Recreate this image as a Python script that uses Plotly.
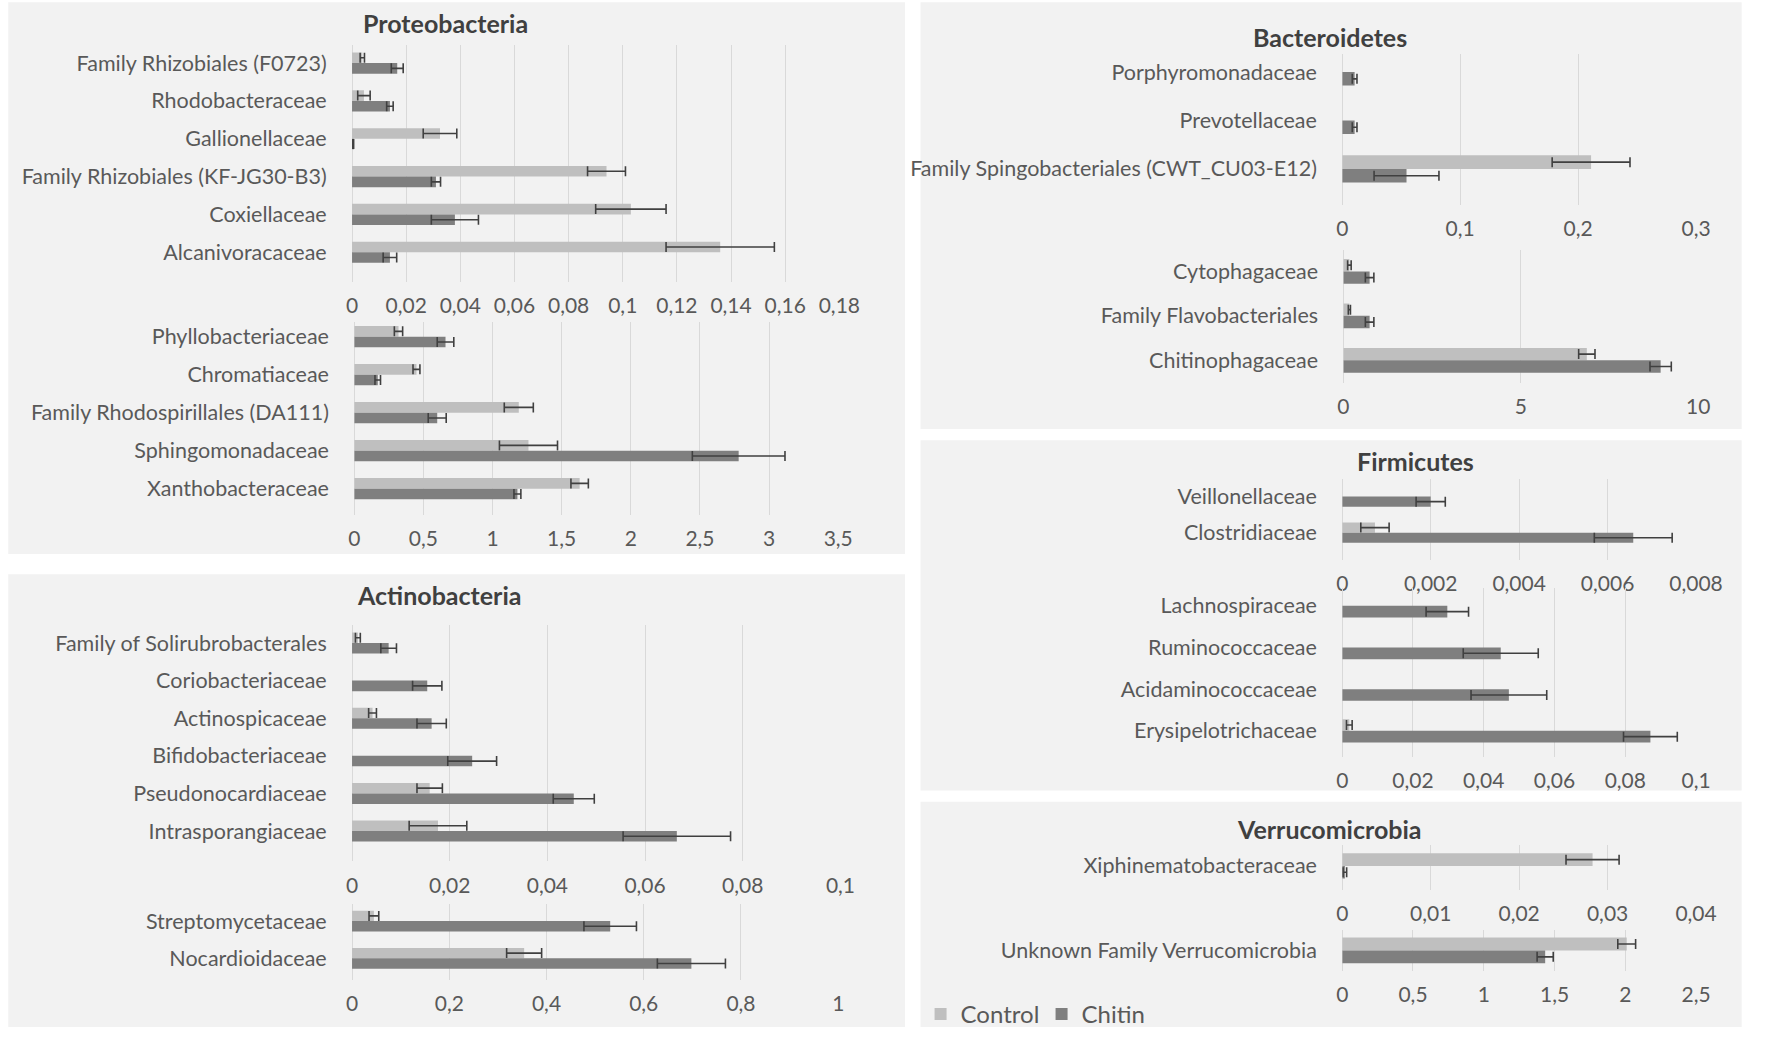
import plotly.graph_objects as go

# ---------------- DATA ----------------
proteo_top_cats = ["Family Rhizobiales (F0723)", "Rhodobacteraceae", "Gallionellaceae",
                   "Family Rhizobiales (KF-JG30-B3)", "Coxiellaceae", "Alcanivoracaceae"]
proteo_top_control = [0.0038, 0.0044, 0.0325, 0.094, 0.103, 0.136]
proteo_top_control_err = [0.0008, 0.0023, 0.0062, 0.007, 0.013, 0.020]
proteo_top_chitin = [0.0167, 0.014, 0.0004, 0.031, 0.038, 0.014]
proteo_top_chitin_err = [0.0022, 0.0012, 0.0002, 0.0017, 0.0087, 0.0025]

proteo_bot_cats = ["Phyllobacteriaceae", "Chromatiaceae", "Family Rhodospirillales (DA111)",
                   "Sphingomonadaceae", "Xanthobacteraceae"]
proteo_bot_control = [0.32, 0.45, 1.19, 1.26, 1.63]
proteo_bot_control_err = [0.03, 0.025, 0.105, 0.21, 0.063]
proteo_bot_chitin = [0.66, 0.17, 0.60, 2.78, 1.18]
proteo_bot_chitin_err = [0.06, 0.02, 0.065, 0.335, 0.025]

actino_top_cats = ["Family of Solirubrobacterales", "Coriobacteriaceae", "Actinospicaceae",
                   "Bifidobacteriaceae", "Pseudonocardiaceae", "Intrasporangiaceae"]
actino_top_control = [0.0012, None, 0.0042, None, 0.0159, 0.0176]
actino_top_control_err = [0.0005, None, 0.0008, None, 0.0026, 0.0059]
actino_top_chitin = [0.0075, 0.0154, 0.0163, 0.0246, 0.0454, 0.0665]
actino_top_chitin_err = [0.0016, 0.003, 0.003, 0.005, 0.0042, 0.011]

actino_bot_cats = ["Streptomycetaceae", "Nocardioidaceae"]
actino_bot_control = [0.045, 0.354]
actino_bot_control_err = [0.01, 0.036]
actino_bot_chitin = [0.531, 0.698]
actino_bot_chitin_err = [0.054, 0.07]

bact_top_cats = ["Porphyromonadaceae", "Prevotellaceae", "Family Spingobacteriales (CWT_CU03-E12)"]
bact_top_control = [None, None, 0.211]
bact_top_control_err = [None, None, 0.033]
bact_top_chitin = [0.0105, 0.0105, 0.0545]
bact_top_chitin_err = [0.002, 0.002, 0.0275]

bact_bot_cats = ["Cytophagaceae", "Family Flavobacteriales", "Chitinophagaceae"]
bact_bot_control = [0.17, 0.17, 6.86]
bact_bot_control_err = [0.05, 0.03, 0.23]
bact_bot_chitin = [0.74, 0.74, 8.94]
bact_bot_chitin_err = [0.12, 0.12, 0.30]

firm_top_cats = ["Veillonellaceae", "Clostridiaceae"]
firm_top_control = [None, 0.00074]
firm_top_control_err = [None, 0.00032]
firm_top_chitin = [0.0020, 0.00658]
firm_top_chitin_err = [0.00033, 0.00088]

firm_bot_cats = ["Lachnospiraceae", "Ruminococcaceae", "Acidaminococcaceae", "Erysipelotrichaceae"]
firm_bot_control = [None, None, None, 0.0020]
firm_bot_control_err = [None, None, None, 0.0008]
firm_bot_chitin = [0.0297, 0.0448, 0.0471, 0.0871]
firm_bot_chitin_err = [0.006, 0.0106, 0.0107, 0.0076]

verr_top_cats = ["Xiphinematobacteraceae"]
verr_top_control = [0.0283]
verr_top_control_err = [0.003]
verr_top_chitin = [0.0003]
verr_top_chitin_err = [0.0002]

verr_bot_cats = ["Unknown Family Verrucomicrobia"]
verr_bot_control = [2.01]
verr_bot_control_err = [0.063]
verr_bot_chitin = [1.434]
verr_bot_chitin_err = [0.057]

panel_titles = ["Proteobacteria", "Actinobacteria", "Bacteroidetes", "Firmicutes", "Verrucomicrobia"]
series_names = ["Control", "Chitin"]

# ---------------- STYLE / LAYOUT ----------------
W, H = 1772, 1037
S = W / 1563.0
FONT = "Lato"
C_CONTROL = "#bfbfbf"
C_CHITIN = "#7f7f7f"
C_ERR = "#404040"
C_TEXT = "#595959"
C_GRID = "#d9d9d9"

def px(x):
    return x * S / W

def py(y):
    return 1 - y * S / H

# (cats, control, control_err, chitin, chitin_err, xmax, dtick,
#  x0, x1, grid_top, grid_bottom, first_center, spacing)  -- displayed-scale positions
subplots = [
    (proteo_top_cats, proteo_top_control, proteo_top_control_err, proteo_top_chitin, proteo_top_chitin_err,
     0.18, 0.02, 311, 749, 40, 250, 56, 33.6),
    (proteo_bot_cats, proteo_bot_control, proteo_bot_control_err, proteo_bot_chitin, proteo_bot_chitin_err,
     3.5, 0.5, 313, 748, 286, 457, 299, 33.75),
    (actino_top_cats, actino_top_control, actino_top_control_err, actino_top_chitin, actino_top_chitin_err,
     0.1, 0.02, 311, 750, 555, 765, 571, 33.4),
    (actino_bot_cats, actino_bot_control, actino_bot_control_err, actino_bot_chitin, actino_bot_chitin_err,
     1.0, 0.2, 311, 748, 803, 870, 818, 33.0),
    (bact_top_cats, bact_top_control, bact_top_control_err, bact_top_chitin, bact_top_chitin_err,
     0.3, 0.1, 1201, 1519, 48, 182, 64, 43.0),
    (bact_bot_cats, bact_bot_control, bact_bot_control_err, bact_bot_chitin, bact_bot_chitin_err,
     10, 5, 1202, 1521, 222, 340, 241, 39.5),
    (firm_top_cats, firm_top_control, firm_top_control_err, firm_top_chitin, firm_top_chitin_err,
     0.008, 0.002, 1201, 1519, 425, 497, 441, 32.0),
    (firm_bot_cats, firm_bot_control, firm_bot_control_err, firm_bot_chitin, firm_bot_chitin_err,
     0.1, 0.02, 1201, 1519, 522, 672, 538, 37.0),
    (verr_top_cats, verr_top_control, verr_top_control_err, verr_top_chitin, verr_top_chitin_err,
     0.04, 0.01, 1201, 1519, 750, 790, 769, 40.0),
    (verr_bot_cats, verr_bot_control, verr_bot_control_err, verr_bot_chitin, verr_bot_chitin_err,
     2.5, 0.5, 1201, 1519, 826, 862, 844, 41.0),
]

fig = go.Figure()
layout_axes = {}

for i, (cats, ctl, ctl_e, chi, chi_e, xmax, dtick, x0, x1, gt, gb, fc, sp) in enumerate(subplots):
    k = i + 1
    xa = "x" if k == 1 else f"x{k}"
    ya = "y" if k == 1 else f"y{k}"
    n = len(cats)
    last_c = fc + (n - 1) * sp
    t = (fc - gt) / sp
    b = (gb - last_c) / sp
    for name, vals, errs, col in [("Control", ctl, ctl_e, C_CONTROL), ("Chitin", chi, chi_e, C_CHITIN)]:
        fig.add_trace(go.Bar(
            y=cats, x=vals, orientation="h", name=name, legendgroup=name,
            showlegend=(k == 1), marker=dict(color=col, line=dict(width=0)),
            error_x=dict(type="data", array=[e if e is not None else 0 for e in errs],
                         color=C_ERR, thickness=1.6, width=5),
            xaxis=xa, yaxis=ya, hoverinfo="skip",
        ))
    xkey = "xaxis" if k == 1 else f"xaxis{k}"
    ykey = "yaxis" if k == 1 else f"yaxis{k}"
    layout_axes[xkey] = dict(
        domain=[px(x0), px(x1)], anchor=ya, range=[0, xmax], dtick=dtick, tick0=0,
        showgrid=True, gridcolor=C_GRID, gridwidth=1.2,
        zeroline=True, zerolinecolor=C_GRID, zerolinewidth=1.2, showline=False,
        ticks="outside", ticklen=5, tickcolor="rgba(0,0,0,0)",
        tickfont=dict(family=FONT, size=21, color=C_TEXT), fixedrange=True,
    )
    layout_axes[ykey] = dict(
        domain=[py(gb), py(gt)], anchor=xa, type="category",
        range=[n - 1 + b, -t], showgrid=False, zeroline=False, showline=False,
        ticks="outside", ticklen=int(round(18 * S)), tickcolor="rgba(0,0,0,0)",
        tickfont=dict(family=FONT, size=21.5, color=C_TEXT), fixedrange=True,
    )

# panel backgrounds
panels = [(2, 2, 808, 492), (2, 510, 808, 912), (822, 2, 1560, 381),
          (822, 391, 1560, 702), (822, 712, 1560, 912)]
shapes = []
for (a, bb, c, d) in panels:
    shapes.append(dict(type="rect", xref="paper", yref="paper",
                       x0=px(a), x1=px(c), y0=py(d), y1=py(bb),
                       fillcolor="#f2f2f2", line=dict(width=0), layer="below"))

title_pos = [(395, 20), (389, 528), (1190, 33), (1267, 409), (1190, 736)]
annotations = []
for txt, (tx, ty) in zip(panel_titles, title_pos):
    annotations.append(dict(text=f"<b>{txt}</b>", x=px(tx), y=py(ty), xref="paper", yref="paper",
                            showarrow=False, xanchor="center", yanchor="middle",
                            font=dict(family=FONT, size=25, color="#404040")))

fig.update_layout(
    width=W, height=H, margin=dict(l=0, r=0, t=0, b=0, pad=0),
    paper_bgcolor="white", plot_bgcolor="rgba(0,0,0,0)",
    barmode="group", bargap=0.44, bargroupgap=0,
    separators=", ",
    shapes=shapes, annotations=annotations,
    legend=dict(orientation="h", x=px(822), y=py(901), xanchor="left", yanchor="middle",
                font=dict(family=FONT, size=24, color=C_TEXT), bgcolor="rgba(0,0,0,0)",
                itemwidth=30, entrywidth=76, entrywidthmode="pixels",
                tracegroupgap=0, traceorder="normal"),
    font=dict(family=FONT, color=C_TEXT),
    **layout_axes,
)

fig.write_html(
    "out.html",
    config={"displayModeBar": False},
    post_script=(
        "document.body.style.margin='0';document.body.style.padding='0';"
        "document.documentElement.style.overflow='hidden';document.body.style.overflow='hidden';"
    ),
)
